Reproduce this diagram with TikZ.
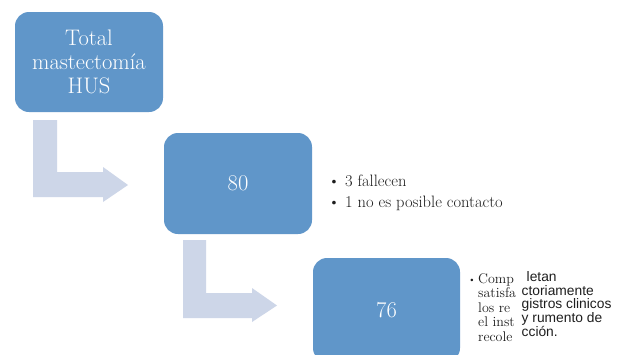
\documentclass[tikz,border=0pt]{standalone}
\usepackage{fontspec}
\newfontfamily\arialfont{Liberation Sans}
\usepackage{tikz}
\definecolor{boxblue}{RGB}{96,150,201}
\definecolor{arrowgrey}{RGB}{205,214,232}
\definecolor{textgrey}{RGB}{30,30,30}

\begin{document}
\begin{tikzpicture}[x=1pt,y=-1pt,
  blockbox/.style={fill=boxblue,rounded corners=14pt,minimum width=148pt,text=white,align=center,inner sep=0pt},
  bentarrow/.style={fill=arrowgrey},
  bullettext/.style={anchor=west,align=left,inner sep=0pt,text=textgrey}]
\clip (0,0) rectangle (622,354);
\fill[white] (0,0) rectangle (622,354);

% bent arrows
\fill[bentarrow] (33,120)--(57,120)--(57,172)--(103,172)--(103,167)--(128,185)--(103,202)--(103,197)--(33,197)--cycle;
\fill[bentarrow] (183,240)--(206,240)--(206,293)--(252,293)--(252,288)--(277,305.5)--(252,322)--(252,318)--(183,318)--cycle;

% boxes
\node[blockbox,minimum height=100pt,font=\fontsize{22.5}{24}\selectfont] (total) at (89,62) {Total\\mastectomía\\HUS};
\node[blockbox,minimum height=101pt,font=\fontsize{22.5}{24}\selectfont] (ochenta) at (238,183.5) {80};
\node[blockbox,minimum height=104pt,minimum width=147pt,font=\fontsize{22.5}{24}\selectfont] (setenta) at (386.5,310) {76};

% lists
\node[bullettext,font=\fontsize{16.5}{21}\selectfont] (perdidas) at (328,192.5) {\textbullet\ 3 fallecen\\\textbullet\ 1 no es posible contacto};
\node[anchor=center,inner sep=0pt,text=textgrey,font=\fontsize{9}{9}\selectfont] (punto) at (472,281) {\textbullet};
\node[anchor=north west,align=left,inner sep=0pt,text=textgrey,font=\fontsize{14}{14.5}\selectfont] (colizq) at (478,273) {Comp\\satisfa\\los re\\el inst\\recole};
\node[anchor=north west,align=left,inner sep=0pt,text=textgrey,font=\arialfont\fontsize{13.8}{13.8}\selectfont] (colder) at (521.5,271) {\hspace{5pt}letan\\ctoriamente\\gistros clinicos\\y rumento de\\cción.};
\end{tikzpicture}
\end{document}
